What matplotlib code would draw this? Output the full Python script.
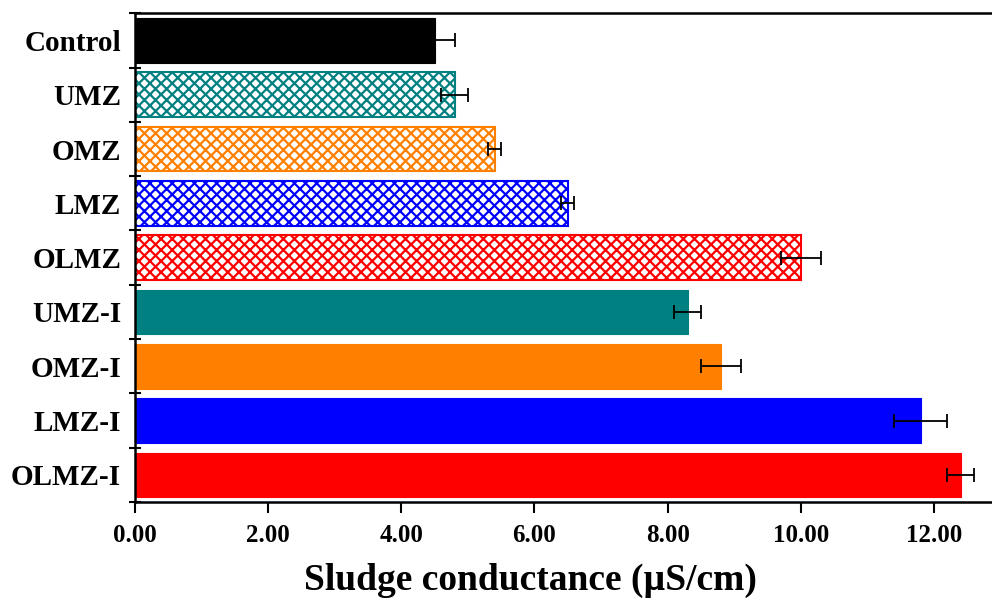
import matplotlib
matplotlib.use('Agg')
import matplotlib.pyplot as plt
import numpy as np
from matplotlib.ticker import FixedLocator

groups = ['Control', 'UMZ', 'OMZ', 'LMZ', 'OLMZ', 'UMZ-I', 'OMZ-I', 'LMZ-I', 'OLMZ-I']
values = [4.5, 4.8, 5.4, 6.5, 10.0, 8.3, 8.8, 11.8, 12.4]
errors = [0.3, 0.2, 0.1, 0.1, 0.3, 0.2, 0.3, 0.4, 0.2]
colors = ['#000000', '#008080', '#FF8000', '#0000FF', '#FF0000',
          '#008080', '#FF8000', '#0000FF', '#FF0000']
hatched = [False, True, True, True, True, False, False, False, False]

plt.rcParams['font.family'] = 'Liberation Serif'
plt.rcParams['font.weight'] = 'bold'
plt.rcParams['hatch.linewidth'] = 1.6

fig = plt.figure(figsize=(9.92, 6.03), dpi=100)
ax = fig.add_axes([0.136, 0.1675, 0.864, 0.8105])

y = np.arange(len(groups))
for i in range(len(groups)):
    if hatched[i]:
        ax.barh(y[i], values[i], height=0.82, color='white', edgecolor=colors[i],
                hatch='xxx', linewidth=1.5)
    else:
        ax.barh(y[i], values[i], height=0.82, color=colors[i], edgecolor=colors[i], linewidth=0.8)
    ax.errorbar(values[i], y[i], xerr=errors[i], fmt='none', ecolor='black',
                elinewidth=1.3, capsize=5, capthick=1.3)

ax.set_ylim(len(groups) - 0.5, -0.5)
ax.set_xlim(0, 12.87)
ax.set_yticks(y)
ax.set_yticklabels(groups, fontsize=21, fontweight='bold')
ax.yaxis.set_minor_locator(FixedLocator(np.arange(-0.5, len(groups), 1)))
ax.tick_params(axis='y', which='major', length=0, pad=10)
ax.tick_params(axis='y', which='minor', direction='inout', length=8, width=1.5)

ax.set_xticks(np.arange(0, 13, 2))
ax.set_xticklabels(['%.2f' % v for v in np.arange(0, 13, 2)], fontsize=18, fontweight='bold')
ax.tick_params(axis='x', direction='out', length=8, width=1.5, pad=8)
ax.set_xlabel('Sludge conductance (µS/cm)', fontsize=27, fontweight='bold')
ax.xaxis.set_label_coords(0.462, -0.124)

for s in ['left', 'bottom', 'top']:
    ax.spines[s].set_linewidth(1.8)
ax.spines['right'].set_visible(False)

plt.savefig('out.png', dpi=100)
plt.close()
